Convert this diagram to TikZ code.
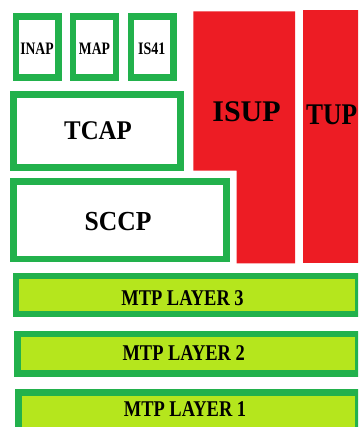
\documentclass[tikz,border=0pt]{standalone}
\usepackage{fontspec}
\setmainfont{Liberation Serif}
\usepackage{graphicx}
\definecolor{pgreen}{HTML}{22B14C}
\definecolor{pred}{HTML}{ED1C24}
\definecolor{plime}{HTML}{B5E61D}
\newcommand{\sqz}[3]{\scalebox{#2}[1]{\fontsize{#1}{#1}\selectfont\bfseries #3}}
\begin{document}
\begin{tikzpicture}[x=1pt,y=-1pt,
  gbox/.style={draw=pgreen, line width=6.4pt, fill=white, inner sep=0pt, rectangle},
  lbox/.style={gbox, fill=plime},
  txt/.style={inner sep=0pt, anchor=base, text=black}]
\useasboundingbox (0,0) rectangle (358,427);
\clip (0,0) rectangle (358,427);
% application parts
\node[gbox, minimum width=42.7pt, minimum height=61pt] (inap) at (37.2,47) {};
\node[gbox, minimum width=42.7pt, minimum height=61pt] (map) at (94.5,47) {};
\node[gbox, minimum width=42.7pt, minimum height=61pt] (is41) at (152.2,47) {};
\node[txt] (inapt) at (37,55) {\sqz{17.5}{0.78}{INAP}};
\node[txt] (mapt) at (94.5,55) {\sqz{17.5}{0.78}{MAP}};
\node[txt] (is41t) at (151.7,55) {\sqz{17.5}{0.8}{IS41}};
% TCAP, SCCP
\node[gbox, line width=6.7pt, minimum width=167.3pt, minimum height=73pt] (tcap) at (97,130.85) {};
\node[txt] (tcapt) at (98,139.3) {\sqz{27}{0.92}{TCAP}};
\node[gbox, line width=6.7pt, minimum width=213.3pt, minimum height=77.3pt] (sccp) at (120,220.3) {};
\node[txt] (sccpt) at (118,230) {\sqz{27.5}{0.93}{SCCP}};
% ISUP, TUP
\fill[pred] (193.3,11.3) -- (295,11.3) -- (295,263.3) -- (236.7,263.3) -- (236.7,170.7) -- (193.3,170.7) -- cycle;
\node[txt] (isupt) at (246.5,121.7) {\sqz{30}{1}{ISUP}};
\fill[pred] (303.3,10.3) rectangle (365,263.3);
\node[txt, anchor=base west] (tupt) at (306,125) {\sqz{30}{0.85}{TUP}};
% MTP layers
\node[lbox, minimum width=342pt, minimum height=38.3pt] (mtp3) at (186.85,295) {};
\node[txt] (mtp3t) at (182.5,305) {\sqz{22.5}{0.82}{MTP LAYER 3}};
\node[lbox, minimum width=340.4pt, minimum height=39.4pt] (mtp2) at (187.65,353.85) {};
\node[txt] (mtp2t) at (183.7,360) {\sqz{22.5}{0.82}{MTP LAYER 2}};
\node[lbox, minimum width=339.4pt, minimum height=40pt] (mtp1) at (188.15,412.5) {};
\node[txt] (mtp1t) at (185,416.7) {\sqz{22.5}{0.82}{MTP LAYER 1}};
\end{tikzpicture}
\end{document}
